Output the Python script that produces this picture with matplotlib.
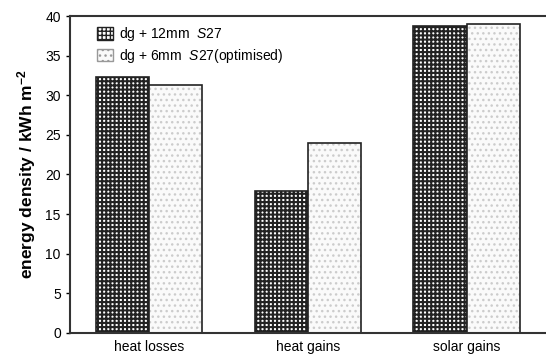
import numpy as np
import matplotlib
matplotlib.use("Agg")
import matplotlib.pyplot as plt
from matplotlib.patches import Patch

plt.rcParams['font.family'] = ['Liberation Sans', 'DejaVu Sans']
plt.rcParams['mathtext.fontset'] = 'custom'
plt.rcParams['mathtext.it'] = 'Liberation Sans:italic'
plt.rcParams['mathtext.rm'] = 'Liberation Sans'
plt.rcParams['mathtext.bf'] = 'Liberation Sans:bold'
plt.rcParams['hatch.linewidth'] = 1.5

categories = ['heat losses', 'heat gains', 'solar gains']
vals_12mm = [32.3, 17.9, 38.8]
vals_6mm = [31.3, 24.0, 39.0]
labels = [r'dg + 12mm  $\it{S27}$', r'dg + 6mm  $\it{S27}$(optimised)']

fig = plt.figure(figsize=(5.46, 3.56), dpi=100)
ax = fig.add_axes([0.128, 0.065, 0.872, 0.89])

x = np.arange(len(categories))
w = 0.335
ax.bar(x - w / 2, vals_12mm, w, facecolor='white', edgecolor='#222222', hatch='++++',
       linewidth=1.2)
plt.rcParams['hatch.linewidth'] = 1.0
ax.bar(x + w / 2, vals_6mm, w, facecolor='#fafafa', edgecolor='#cccccc', hatch='...',
       linewidth=0)
# black outline on the light bars
ax.bar(x + w / 2, vals_6mm, w, facecolor='none', edgecolor='#222222', linewidth=1.2)

ax.set_xlim(-0.5, 2.5)
ax.set_ylim(0, 40)
ax.set_yticks(np.arange(0, 41, 5))
ax.set_xticks(x)
ax.set_xticklabels(categories, fontsize=10)
ax.tick_params(axis='x', length=0, pad=5)
ax.tick_params(axis='y', labelsize=10, direction='out', length=3, width=1)
ax.spines['right'].set_visible(False)
for s in ['left', 'bottom', 'top']:
    ax.spines[s].set_linewidth(1.5)
    ax.spines[s].set_color('#333333')
ax.set_ylabel(r'energy density / kWh m$^{\mathbf{-2}}$', fontsize=12.5, fontweight='bold', labelpad=5)

handles = [Patch(facecolor='white', edgecolor='#222222', hatch='++++', linewidth=1.0),
           Patch(facecolor='#fafafa', edgecolor='#999999', hatch='...', linewidth=1.0)]
ax.legend(handles, labels, loc='upper left', bbox_to_anchor=(0.03, 1.01), frameon=False,
          fontsize=10, handlelength=1.2, handleheight=1.0, handletextpad=0.4, labelspacing=0.25)

fig.savefig('out.png', dpi=100)
